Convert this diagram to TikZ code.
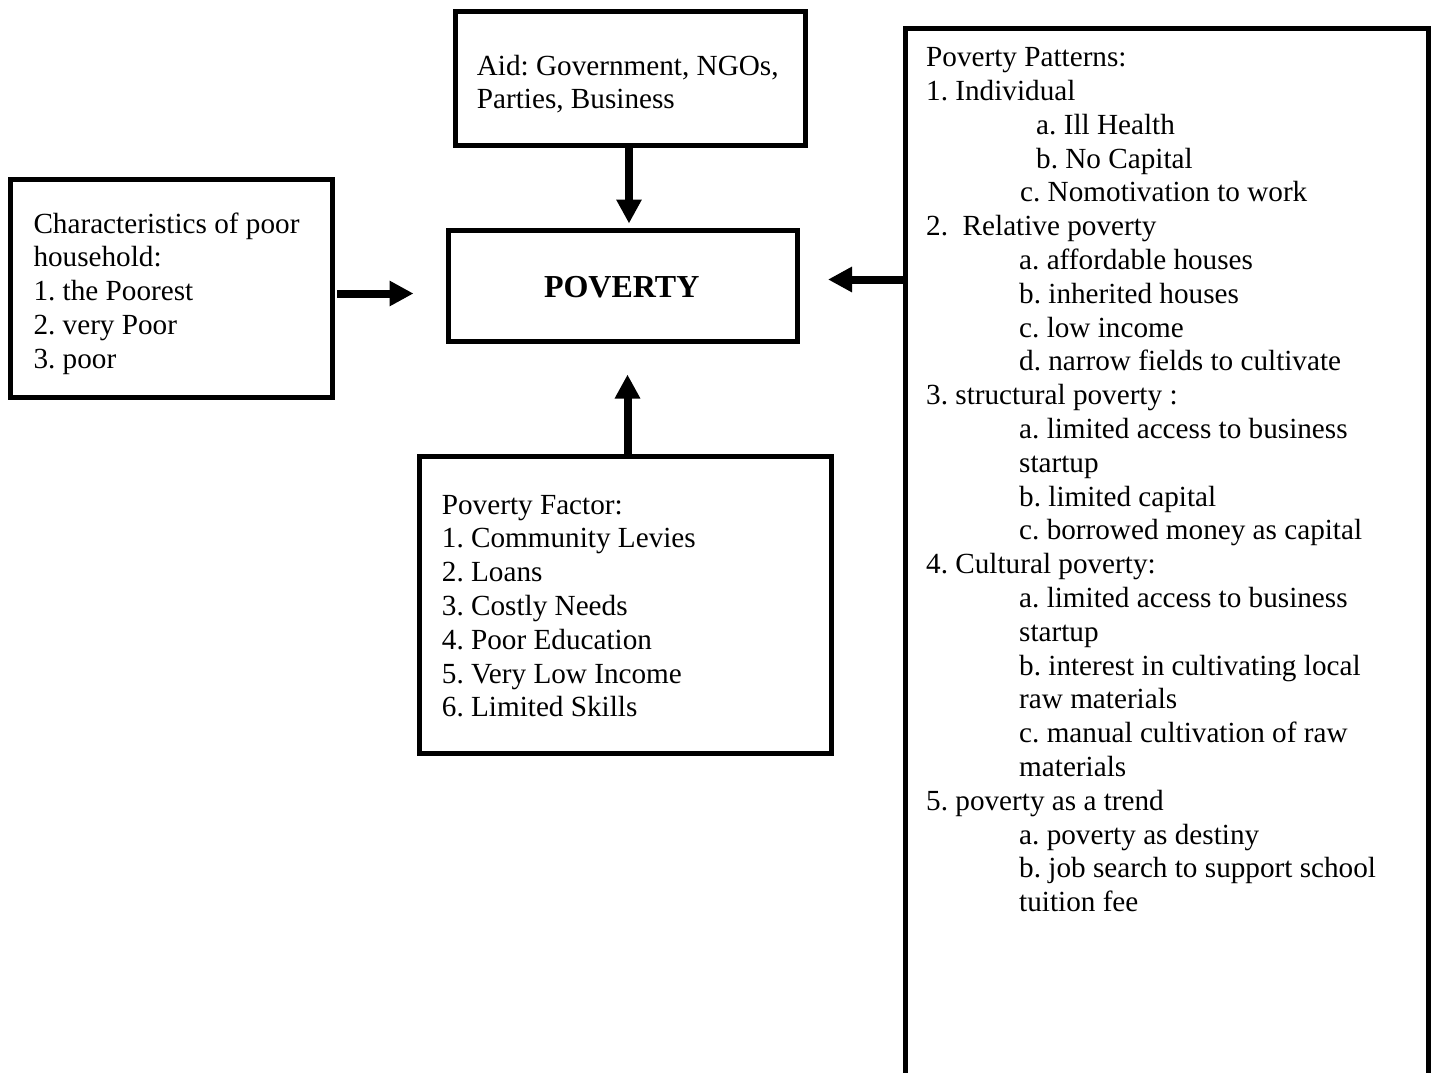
\documentclass[tikz,border=0pt]{standalone}
\usepackage{fontspec}
\setmainfont{Liberation Serif}
\usetikzlibrary{arrows.meta}
\frenchspacing
\begin{document}
\begin{tikzpicture}[x=1pt,y=-1pt,
  box/.style={draw,line width=5pt,inner sep=0pt},
  txt/.style={anchor=base west,inner sep=0pt,font=\fontsize{29.2}{33.8}\selectfont},
  arr/.style={line width=8pt,-{Triangle[width=24pt,length=24pt]}}]
\useasboundingbox (0,0) rectangle (1434,1072);
\clip (0,0) rectangle (1434,1072);
% boxes
\node[box,minimum width=322pt,minimum height=218pt] (L) at (171.5,288.5) {};
\node[box,minimum width=349.5pt,minimum height=134pt] (A) at (630.25,78) {};
\node[box,minimum width=349.5pt,minimum height=111pt] (P) at (622.75,285.5) {};
\node[box,minimum width=411.5pt,minimum height=297pt] (F) at (625.25,604.5) {};
\node[box,minimum width=523pt,minimum height=1100pt] (R) at (1166.5,578) {};
% texts
\node[txt] (Lt) at (33.3,233) {\begin{tabular}[t]{@{}l@{}}Characteristics of poor\\household:\\1. the Poorest\\2. very Poor\\3. poor\end{tabular}};
\node[txt] (At) at (476.7,75) {\begin{tabular}[t]{@{}l@{}}Aid: Government, NGOs,\\Parties, Business\end{tabular}};
\node[anchor=base,inner sep=0pt,font=\fontsize{32}{38}\selectfont\bfseries] (Pt) at (621.7,297.3) {POVERTY};
\node[txt] (Ft) at (441.7,514) {\begin{tabular}[t]{@{}l@{}}Poverty Factor:\\1. Community Levies\\2. Loans\\3. Costly Needs\\4. Poor Education\\5. Very Low Income\\6. Limited Skills\end{tabular}};
\node[txt] (Rt) at (926,66.7) {\begin{tabular}[t]{@{}l@{}}Poverty Patterns:\\
1. Individual\\
\hspace*{110pt}a. Ill Health\\
\hspace*{110pt}b. No Capital\\
\hspace*{94pt}c. Nomotivation to work\\
2.\ \ Relative poverty\\
\hspace*{93pt}a. affordable houses\\
\hspace*{93pt}b. inherited houses\\
\hspace*{93pt}c. low income\\
\hspace*{93pt}d. narrow fields to cultivate\\
3. structural poverty :\\
\hspace*{93pt}a. limited access to business\\
\hspace*{93pt}startup\\
\hspace*{93pt}b. limited capital\\
\hspace*{93pt}c. borrowed money as capital\\
4. Cultural poverty:\\
\hspace*{93pt}a. limited access to business\\
\hspace*{93pt}startup\\
\hspace*{93pt}b. interest in cultivating local\\
\hspace*{93pt}raw materials\\
\hspace*{93pt}c. manual cultivation of raw\\
\hspace*{93pt}materials\\
5. poverty as a trend\\
\hspace*{93pt}a. poverty as destiny\\
\hspace*{93pt}b. job search to support school\\
\hspace*{93pt}tuition fee\end{tabular}};
% arrows
\draw[arr,shorten <=2pt,shorten >=32pt] (L.east |- 0,293.5) -- (P.west |- 0,293.5);
\draw[arr,shorten >=4pt] (A.south -| 629,0) -- (P.north -| 629,0);
\draw[arr,shorten >=31pt] (F.north -| 627.5,0) -- (P.south -| 627.5,0);
\draw[arr,shorten >=28pt] (R.west |- 0,279.5) -- (P.east |- 0,279.5);
\end{tikzpicture}
\end{document}
